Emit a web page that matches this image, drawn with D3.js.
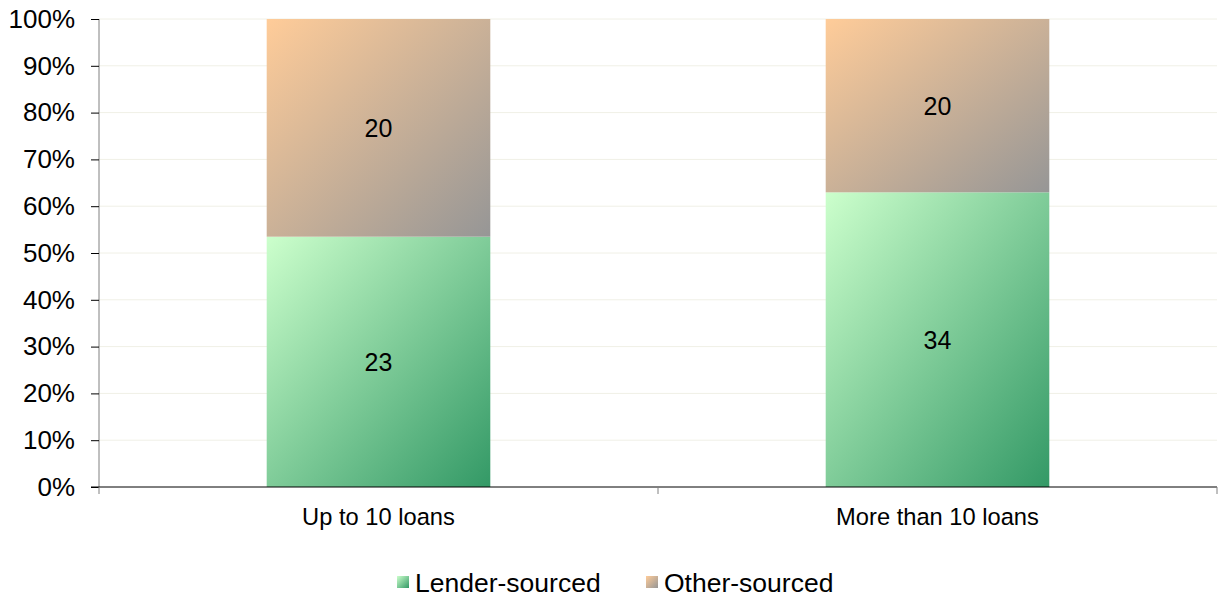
<!DOCTYPE html>
<html>
<head>
<meta charset="utf-8">
<script src="https://cdn.jsdelivr.net/npm/d3@7"></script>
<style>
  body { margin: 0; background: #fff; }
  svg { display: block; font-family: "Liberation Sans", Arial, sans-serif; }
</style>
</head>
<body>
<svg id="chart" width="1222" height="599"></svg>
<script>
const categories = ["Up to 10 loans", "More than 10 loans"];
const seriesNames = ["Lender-sourced", "Other-sourced"];
const lenderValues = [23, 34];
const otherValues = [20, 20];
const yTicks = [0, 0.1, 0.2, 0.3, 0.4, 0.5, 0.6, 0.7, 0.8, 0.9, 1.0];

const svg = d3.select("#chart");
const margin = { left: 99, right: 1217, top: 19, bottom: 487 };

const x = d3.scaleBand().domain(categories).range([margin.left, margin.right]).paddingInner(0).paddingOuter(0);
const y = d3.scaleLinear().domain([0, 1]).range([margin.bottom, margin.top]);

const defs = svg.append("defs");
const grads = [
  { id: "gLender", c0: "#CCFFCC", c1: "#339966" },
  { id: "gOther", c0: "#FFCC99", c1: "#969696" }
];
grads.forEach(g => {
  const lg = defs.append("linearGradient").attr("id", g.id)
    .attr("x1", 0).attr("y1", 0).attr("x2", 1).attr("y2", 1);
  lg.append("stop").attr("offset", "0%").attr("stop-color", g.c0);
  lg.append("stop").attr("offset", "100%").attr("stop-color", g.c1);
});

// gridlines
svg.append("g").selectAll("line").data(yTicks.filter(d => d > 0)).join("line")
  .attr("x1", margin.left).attr("x2", margin.right)
  .attr("y1", d => y(d)).attr("y2", d => y(d))
  .attr("stroke", "#F0F0E6").attr("stroke-width", 1);

// stacked data
const data = categories.map((c, i) => ({ cat: c, Lender: lenderValues[i], Other: otherValues[i] }));
const stack = d3.stack().keys(["Lender", "Other"]).offset(d3.stackOffsetExpand);
const series = stack(data);
const fills = ["url(#gLender)", "url(#gOther)"];

const barW = x.bandwidth() * 0.4;
series.forEach((s, si) => {
  const g = svg.append("g");
  g.selectAll("rect").data(s).join("rect")
    .attr("x", d => x(d.data.cat) + (x.bandwidth() - barW) / 2)
    .attr("width", barW)
    .attr("y", d => y(d[1]))
    .attr("height", d => y(d[0]) - y(d[1]))
    .attr("fill", fills[si]);
  g.selectAll("text").data(s).join("text")
    .attr("x", d => x(d.data.cat) + x.bandwidth() / 2)
    .attr("y", d => (y(d[0]) + y(d[1])) / 2)
    .attr("text-anchor", "middle").attr("dominant-baseline", "central")
    .attr("font-size", 25).attr("fill", "#000")
    .text(d => d.data[s.key]);
});

// y axis
const yAxis = svg.append("g").attr("transform", `translate(${margin.left},0)`)
  .call(d3.axisLeft(y).tickValues(yTicks).tickFormat(d3.format(".0%")).tickSize(8).tickPadding(16));
yAxis.select(".domain").attr("stroke", "#808080").attr("d", `M0,${margin.top}V${margin.bottom}`);
yAxis.selectAll(".tick line").attr("stroke", "#000");
yAxis.selectAll(".tick text").attr("font-size", 26).attr("fill", "#000").attr("font-family", "Liberation Sans, Arial, sans-serif");

// x axis
const xAxisG = svg.append("g");
xAxisG.append("line").attr("x1", margin.left - 8).attr("x2", margin.right)
  .attr("y1", margin.bottom).attr("y2", margin.bottom).attr("stroke", "#000");
const boundaries = [margin.left, ...categories.map(c => x(c) + x.bandwidth())];
xAxisG.selectAll("line.tk").data(boundaries).join("line").attr("class", "tk")
  .attr("x1", d => d).attr("x2", d => d)
  .attr("y1", margin.bottom).attr("y2", margin.bottom + 7).attr("stroke", "#808080");
xAxisG.selectAll("text").data(categories).join("text")
  .attr("x", d => x(d) + x.bandwidth() / 2).attr("y", 517)
  .attr("dominant-baseline", "central")
  .attr("text-anchor", "middle").attr("font-size", 23.7).attr("fill", "#000")
  .text(d => d);

// legend
const legend = svg.append("g");
const legendItems = [
  { name: seriesNames[0], fill: fills[0], x: 397 },
  { name: seriesNames[1], fill: fills[1], x: 646 }
];
legendItems.forEach(it => {
  legend.append("rect").attr("x", it.x).attr("y", 576).attr("width", 12).attr("height", 12).attr("fill", it.fill);
  legend.append("text").attr("x", it.x + 18).attr("y", 583)
    .attr("dominant-baseline", "central").attr("font-size", 26.5).attr("fill", "#000").text(it.name);
});
</script>
</body>
</html>
